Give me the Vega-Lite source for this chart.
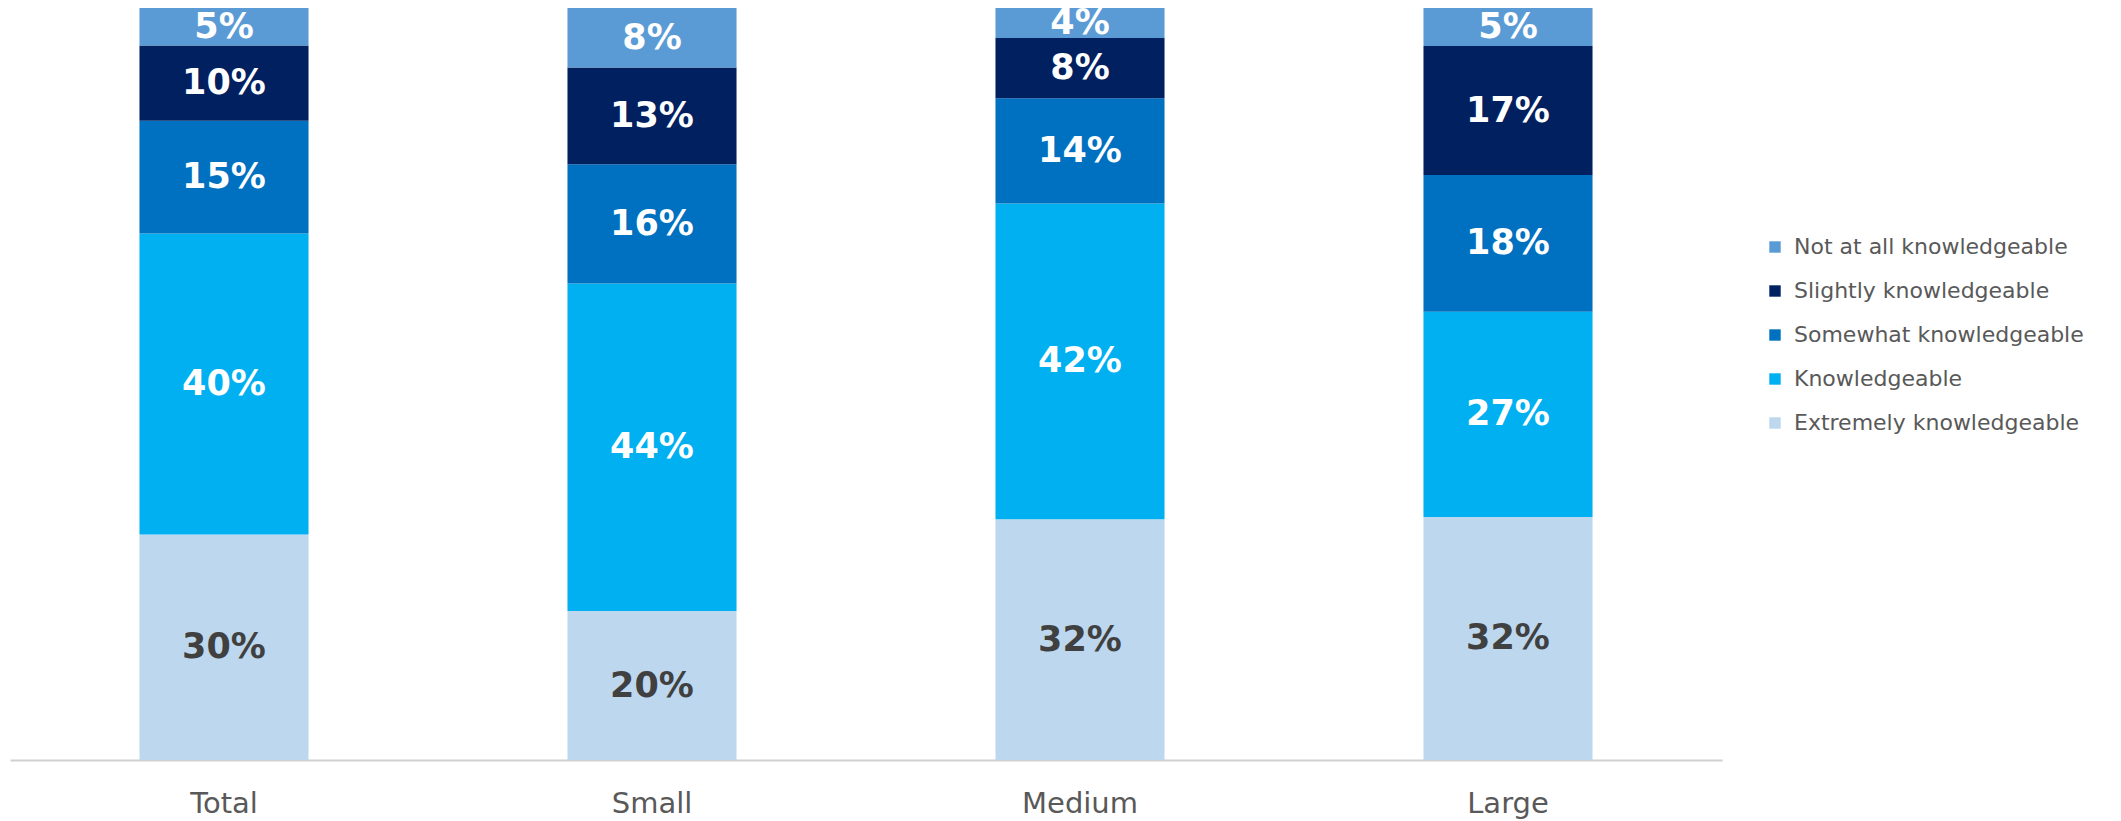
{
  "$schema": "https://vega.github.io/schema/vega-lite/v6.json",
  "autosize": "none",
  "width": 1712,
  "height": 752,
  "padding": {"left": 10, "top": 8, "right": 399, "bottom": 61},
  "background": "white",
  "config": {"view": {"stroke": null}, "font": "DejaVu Sans"},
  "data": {"values": [
    {"group": "Total", "level": "Extremely knowledgeable", "rank": 1, "value": 30},
    {"group": "Total", "level": "Knowledgeable", "rank": 2, "value": 40},
    {"group": "Total", "level": "Somewhat knowledgeable", "rank": 3, "value": 15},
    {"group": "Total", "level": "Slightly knowledgeable", "rank": 4, "value": 10},
    {"group": "Total", "level": "Not at all knowledgeable", "rank": 5, "value": 5},
    {"group": "Small", "level": "Extremely knowledgeable", "rank": 1, "value": 20},
    {"group": "Small", "level": "Knowledgeable", "rank": 2, "value": 44},
    {"group": "Small", "level": "Somewhat knowledgeable", "rank": 3, "value": 16},
    {"group": "Small", "level": "Slightly knowledgeable", "rank": 4, "value": 13},
    {"group": "Small", "level": "Not at all knowledgeable", "rank": 5, "value": 8},
    {"group": "Medium", "level": "Extremely knowledgeable", "rank": 1, "value": 32},
    {"group": "Medium", "level": "Knowledgeable", "rank": 2, "value": 42},
    {"group": "Medium", "level": "Somewhat knowledgeable", "rank": 3, "value": 14},
    {"group": "Medium", "level": "Slightly knowledgeable", "rank": 4, "value": 8},
    {"group": "Medium", "level": "Not at all knowledgeable", "rank": 5, "value": 4},
    {"group": "Large", "level": "Extremely knowledgeable", "rank": 1, "value": 32},
    {"group": "Large", "level": "Knowledgeable", "rank": 2, "value": 27},
    {"group": "Large", "level": "Somewhat knowledgeable", "rank": 3, "value": 18},
    {"group": "Large", "level": "Slightly knowledgeable", "rank": 4, "value": 17},
    {"group": "Large", "level": "Not at all knowledgeable", "rank": 5, "value": 5}
  ]},
  "transform": [
    {"stack": "value", "groupby": ["group"], "sort": [{"field": "rank", "order": "ascending"}], "offset": "normalize", "as": ["y0", "y1"]},
    {"calculate": "(datum.y0 + datum.y1) / 2", "as": "ymid"},
    {"calculate": "datum.value + '%'", "as": "label"}
  ],
  "encoding": {
    "x": {
      "field": "group", "type": "nominal",
      "sort": ["Total", "Small", "Medium", "Large"],
      "scale": {"paddingInner": 0.605, "paddingOuter": 0.3025},
      "axis": {
        "title": null, "labelAngle": 0, "ticks": false,
        "domainColor": "#D0D0D0", "domainWidth": 2,
        "labelFontSize": 29, "labelColor": "#595959", "labelPadding": 29,
        "labelFont": "DejaVu Sans", "labelFontWeight": "normal"
      }
    }
  },
  "layer": [
    {
      "mark": {"type": "bar"},
      "encoding": {
        "y": {"field": "y0", "type": "quantitative", "scale": {"domain": [0, 1]}, "axis": null},
        "y2": {"field": "y1"},
        "color": {
          "field": "level", "type": "nominal",
          "scale": {
            "domain": ["Not at all knowledgeable", "Slightly knowledgeable", "Somewhat knowledgeable", "Knowledgeable", "Extremely knowledgeable"],
            "range": ["#5B9BD5", "#002060", "#0070C0", "#00B0F0", "#BDD7EE"]
          },
          "legend": {
            "title": null, "orient": "none", "legendX": 1754, "legendY": 228,
            "symbolType": "square", "symbolSize": 130, "symbolStrokeWidth": 0,
            "labelFontSize": 22, "labelColor": "#595959", "labelFont": "DejaVu Sans",
            "labelLimit": 500, "rowPadding": 22, "labelOffset": 8
          }
        }
      }
    },
    {
      "mark": {"type": "text", "fontWeight": "bold", "fontSize": 35, "baseline": "middle", "font": "DejaVu Sans"},
      "encoding": {
        "y": {"field": "ymid", "type": "quantitative", "scale": {"domain": [0, 1]}},
        "text": {"field": "label"},
        "color": {
          "condition": {"test": "datum.rank == 1", "value": "#404040"},
          "value": "#FFFFFF"
        }
      }
    }
  ]
}
